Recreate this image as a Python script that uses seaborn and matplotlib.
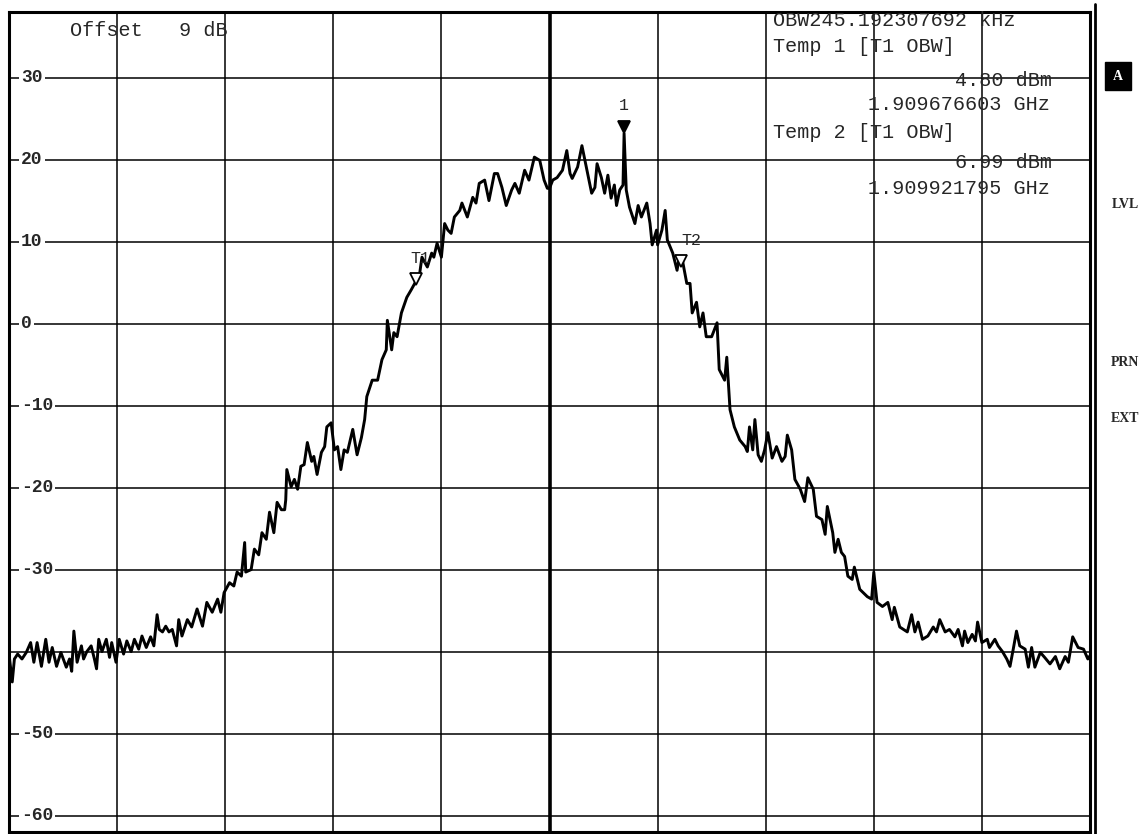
import matplotlib
matplotlib.use("Agg")
import matplotlib.pyplot as plt
import matplotlib.transforms as mtransforms
from matplotlib.lines import Line2D
import pandas as pd
import seaborn as sns

# Sweep settings (span 1 MHz around the centre frequency)
CENTER_GHZ = 1.9098
FREQ_LIMITS_KHZ = (-500, 500)
LEVEL_LIMITS_DBM = (-62, 38)
OFFSET_DB = 9

# Measured trace: frequency offset from centre (kHz) and level (dBm)
freq_khz = [
    -500, -497, -495, -492, -488, -484, -480, -477, -474, -470, -466, -463,
    -460, -456, -452, -447, -444, -442, -440, -437, -433, -431, -428, -424,
    -421, -419, -417, -414, -410, -407, -405, -401, -398, -394, -391, -387,
    -384, -380, -377, -373, -369, -366, -363, -361, -358, -355, -352, -349,
    -345, -343, -340, -335, -331, -326, -321, -317, -312, -307, -304, -301,
    -296, -292, -289, -285, -282, -281, -276, -273, -269, -266, -262, -259,
    -255, -252, -248, -245, -244, -243, -239, -236, -233, -230, -227, -224,
    -220, -218, -215, -211, -208, -206, -202, -199, -196, -193, -190, -187,
    -182, -178, -174, -171, -169, -164, -159, -155, -151, -150, -146, -144,
    -141, -137, -132, -128, -123, -120, -118, -113, -109, -107, -104, -100,
    -97, -94, -91, -88, -83, -81, -76, -71, -68, -65, -60, -56,
    -51, -48, -44, -40, -35, -32, -28, -23, -19, -14, -9, -5,
    -2, 0, 3, 7, 12, 16, 19, 21, 26, 30, 34, 39,
    42, 44, 48, 51, 54, 57, 60, 62, 65, 68, 69, 71,
    74, 79, 82, 85, 90, 93, 95, 99, 100, 104, 107, 109,
    114, 118, 120, 123, 127, 130, 132, 136, 139, 142, 145, 150,
    155, 157, 162, 164, 167, 171, 176, 181, 183, 185, 188, 190,
    193, 196, 199, 202, 206, 210, 215, 218, 220, 224, 227, 232,
    236, 239, 244, 247, 252, 255, 257, 262, 264, 267, 270, 273,
    276, 280, 282, 287, 294, 298, 300, 303, 308, 313, 317, 319,
    324, 331, 335, 338, 341, 345, 350, 355, 358, 361, 366, 370,
    375, 378, 382, 384, 387, 391, 394, 396, 400, 405, 407, 412,
    415, 419, 423, 426, 429, 432, 435, 440, 443, 446, 449, 454,
    458, 463, 468, 472, 477, 480, 484, 489, 494, 498, 500,
]
level_dbm = [
    -40.3, -43.7, -40.9, -40.3, -40.9, -40.1, -38.9, -41.3, -38.9, -41.8, -38.5, -41.3,
    -39.5, -41.8, -40.1, -41.9, -40.9, -42.4, -37.5, -41.3, -39.3, -40.9, -40.0, -39.3,
    -40.9, -42.1, -38.5, -40.0, -38.5, -40.7, -38.9, -41.3, -38.5, -40.3, -38.7, -40.0,
    -38.5, -39.7, -38.1, -39.5, -38.2, -39.3, -35.5, -37.3, -37.6, -36.9, -37.6, -37.3,
    -39.3, -36.1, -38.1, -36.1, -37.0, -34.8, -36.9, -34.0, -35.2, -33.6, -35.2, -32.8,
    -31.6, -32.0, -30.3, -30.8, -26.7, -30.3, -30.0, -27.5, -28.2, -25.5, -26.3, -23.0,
    -25.5, -21.8, -22.7, -22.7, -21.5, -17.8, -19.9, -19.0, -20.2, -17.4, -17.2, -14.5,
    -16.8, -16.2, -18.4, -15.7, -15.0, -12.6, -12.1, -15.4, -15.0, -17.8, -15.4, -15.7,
    -12.9, -16.0, -13.9, -11.7, -8.9, -6.9, -6.9, -4.4, -3.2, 0.4, -3.2, -1.1,
    -1.6, 1.3, 3.2, 4.1, 5.3, 6.2, 8.1, 6.9, 8.6, 8.1, 9.8, 8.1,
    12.2, 11.4, 11.0, 13.0, 13.8, 14.7, 13.0, 15.4, 14.7, 17.1, 17.5, 15.0,
    18.3, 18.3, 16.6, 14.4, 16.3, 17.1, 15.9, 18.7, 17.5, 20.3, 19.9, 17.5,
    16.5, 16.5, 17.5, 17.8, 18.7, 21.1, 18.3, 17.7, 19.1, 21.7, 19.1, 15.9,
    16.6, 19.5, 17.8, 15.9, 18.1, 15.3, 16.9, 14.4, 16.3, 16.9, 23.2, 16.3,
    14.2, 12.2, 14.4, 13.0, 14.7, 12.2, 9.6, 11.4, 9.6, 11.4, 13.8, 10.2,
    8.6, 6.5, 8.1, 7.7, 4.9, 4.9, 1.3, 2.6, -0.4, 1.3, -1.6, -1.6,
    0.1, -5.6, -6.9, -4.1, -10.5, -12.6, -14.2, -15.0, -15.6, -12.6, -15.4, -11.7,
    -16.0, -16.8, -15.4, -13.3, -16.4, -15.0, -16.8, -16.2, -13.6, -15.4, -19.0, -20.2,
    -21.7, -18.8, -20.2, -23.5, -23.9, -25.7, -22.3, -25.5, -27.9, -26.3, -27.9, -28.4,
    -30.8, -31.2, -29.7, -32.4, -33.3, -33.6, -30.3, -34.0, -34.5, -34.0, -36.1, -34.6,
    -37.0, -37.6, -35.5, -37.6, -36.4, -38.5, -38.1, -37.0, -37.6, -36.1, -37.6, -37.3,
    -38.2, -37.3, -39.3, -37.5, -38.9, -37.9, -38.7, -36.4, -38.9, -38.5, -39.5, -38.5,
    -39.3, -40.0, -40.9, -41.8, -39.7, -37.5, -39.3, -39.7, -41.9, -39.5, -41.9, -40.1,
    -40.7, -41.5, -40.6, -42.1, -40.6, -41.3, -38.2, -39.5, -39.7, -40.9, -40.5,
]

# Graticule
grid_levels = [30, 20, 10, 0, -10, -20, -30, -40, -50, -60]
labelled_levels = [30, 20, 10, 0, -10, -20, -30, -50, -60]
grid_freqs = [-400, -300, -200, -100, 0, 100, 200, 300, 400]

# Marker readouts
obw_khz = 245.192307692
t1_ghz, t1_level = 1.909676603, 4.80
t2_ghz, t2_level = 1.909921795, 6.99

side_labels = ["LVL", "PRN", "EXT"]

df = pd.DataFrame({"freq_khz": freq_khz, "level_dbm": level_dbm})

sns.set_style("white")
plt.rcParams["font.family"] = ["Liberation Mono", "DejaVu Sans Mono"]

W, H = 1141, 834
fig = plt.figure(figsize=(W / 100, H / 100), dpi=100)
ax_l, ax_r, ax_t, ax_b = 9, 1090, 12, 832
ax = fig.add_axes([ax_l / W, 1 - ax_b / H, (ax_r - ax_l) / W, (ax_b - ax_t) / H])
ax.set_facecolor("white")

sns.lineplot(data=df, x="freq_khz", y="level_dbm", color="black", linewidth=2.1,
             estimator=None, sort=False, ax=ax, zorder=4)

ax.set_xlim(*FREQ_LIMITS_KHZ)
ax.set_ylim(*LEVEL_LIMITS_DBM)
ax.set_xticks(grid_freqs)
ax.set_yticks(grid_levels)
ax.grid(True, color="black", linewidth=1.1)
ax.set_axisbelow(True)
ax.axvline(0, color="black", linewidth=2.6, zorder=1.5)
ax.tick_params(length=0, labelleft=False, labelbottom=False)
ax.set_xlabel("")
ax.set_ylabel("")
for side in ["left", "right", "top", "bottom"]:
    ax.spines[side].set_visible(True)
    ax.spines[side].set_color("black")
    ax.spines[side].set_linewidth(2.2)

# Level labels sit on the graticule inside the plot
blend = mtransforms.blended_transform_factory(ax.transAxes, ax.transData)
for lv in labelled_levels:
    ax.text(0.011, lv, str(lv), transform=blend, ha="left", va="center",
            fontsize=13, fontweight="bold", zorder=3,
            bbox=dict(boxstyle="square,pad=0.12", fc="white", ec="none"))

# Header and marker readouts
ax.text(0.0564, 0.978, f"Offset   {OFFSET_DB} dB", transform=ax.transAxes,
        ha="left", va="center", fontsize=14.5)

def px_to_axes(px, py):
    return (px - ax_l) / (ax_r - ax_l), (ax_b - py) / (ax_b - ax_t)

readouts = [
    (773, 21, "left", f"OBW{obw_khz:.9f} kHz"),
    (773, 47, "left", "Temp 1 [T1 OBW]"),
    (1052, 80, "right", f"{t1_level:.2f} dBm"),
    (1050, 105, "right", f"{t1_ghz:.9f} GHz"),
    (773, 132, "left", "Temp 2 [T1 OBW]"),
    (1052, 162, "right", f"{t2_level:.2f} dBm"),
    (1050, 188, "right", f"{t2_ghz:.9f} GHz"),
]
for px, py, ha, s in readouts:
    xa, ya = px_to_axes(px, py)
    ax.text(xa, ya, s, transform=ax.transAxes, ha=ha, va="center", fontsize=14.5)

# Markers: triangles whose tip rests on the marked level
def place_marker(x, y, filled, size):
    tr = mtransforms.offset_copy(ax.transData, fig=fig, y=size / 2, units="points")
    ax.plot([x], [y], marker="v", markersize=size, linestyle="none",
            markerfacecolor="black" if filled else "white",
            markeredgecolor="black", markeredgewidth=1.3, transform=tr, zorder=6)

peak_idx = max(range(len(level_dbm)), key=lambda i: level_dbm[i])
m1_x, m1_y = freq_khz[peak_idx], level_dbm[peak_idx]
place_marker(m1_x, m1_y, True, 9)
ax.annotate("1", xy=(m1_x, m1_y), xytext=(0, 15), textcoords="offset points",
            ha="center", va="bottom", fontsize=12, zorder=6)

t1_khz = (t1_ghz - CENTER_GHZ) * 1e6
t2_khz = (t2_ghz - CENTER_GHZ) * 1e6
place_marker(t1_khz, t1_level, False, 8)
place_marker(t2_khz, t2_level, False, 8)
ax.annotate("T1", xy=(t1_khz, t1_level), xytext=(3, 13), textcoords="offset points",
            ha="center", va="bottom", fontsize=12, zorder=6)
ax.annotate("T2", xy=(t2_khz, t2_level), xytext=(7, 13), textcoords="offset points",
            ha="center", va="bottom", fontsize=12, zorder=6)

# Outer frame doubling on the right edge
fig.add_artist(Line2D([1095 / W, 1095 / W], [1 - 834 / H, 1 - 4 / H],
                      transform=fig.transFigure, color="black", linewidth=2.0))

# Soft-key indicators at the right
fig.text(1118 / W, 1 - 76 / H, "A", ha="center", va="center", color="white",
         fontsize=10, fontweight="bold", family="Liberation Serif",
         bbox=dict(boxstyle="square,pad=0.55", fc="black", ec="black"))
for lab, py in zip(side_labels, [205, 362, 418]):
    fig.text(1125 / W, 1 - py / H, lab, ha="center", va="center", fontsize=10,
             fontweight="bold", family="Liberation Serif")

fig.savefig("out.png", dpi=100, facecolor="white")
